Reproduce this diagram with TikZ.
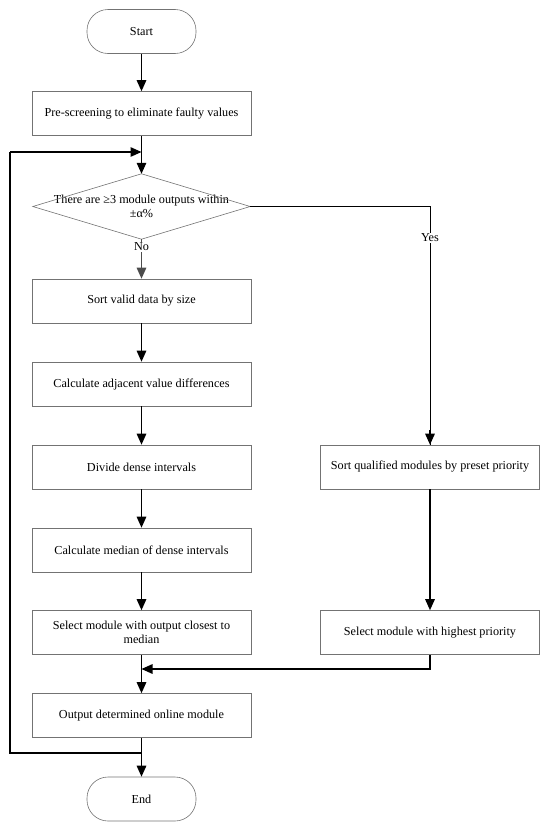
\documentclass[tikz,border=0pt]{standalone}
\usepackage{fontspec}
\setmainfont{Liberation Serif}
\usetikzlibrary{arrows.meta}
\begin{document}
\begin{tikzpicture}[x=1pt,y=-1pt,
  box/.style={draw=black!55, line width=0.6pt, minimum width=219pt, minimum height=44pt, inner sep=2pt, align=center, font=\fontsize{12.2}{14.5}\selectfont},
  term/.style={draw=black!55, line width=0.6pt, rounded corners=21pt, minimum width=109pt, minimum height=44pt, font=\fontsize{12.2}{14.5}\selectfont},
  arr/.style={line width=1.4pt, -{Triangle[width=9.5pt,length=11pt]}},
  ln/.style={line width=1.4pt},
  garr/.style={line width=1.4pt, draw=black!70, fill=black!70, -{Triangle[width=9.5pt,length=11pt]}},
  lbl/.style={fill=white, inner sep=1pt, font=\fontsize{12.2}{14.5}\selectfont}
]
\useasboundingbox (0,0) rectangle (550,830);
\node[term] (start) at (141.5,31.5) {Start};
\node[box] (pre) at (141.5,113.5) {Pre-screening to eliminate faulty values};
\node[minimum width=217pt, minimum height=65pt, inner sep=0pt, align=center, font=\fontsize{12.2}{13.5}\selectfont] (dec) at (141.5,206.5) {There are ≥3 module outputs within\\[0pt]±α\%};
\draw[draw=black!55, line width=0.6pt] (dec.west) -- (dec.north) -- (dec.east) -- (dec.south) -- cycle;
\node[box] (sortv) at (141.5,301) {Sort valid data by size};
\node[box] (calc) at (141.5,384) {Calculate adjacent value differences};
\node[box] (divide) at (141.5,467) {Divide dense intervals};
\node[box] (median) at (141.5,550) {Calculate median of dense intervals};
\node[box] (selc) at (141.5,632.5) {Select module with output closest to\\median};
\node[box] (outp) at (141.5,715.5) {Output determined online module};
\node[term] (end) at (141.5,799) {End};
\node[box] (sortq) at (430,467) {Sort qualified modules by preset priority};
\node[box] (selh) at (430,632.5) {Select module with highest priority};
\coordinate (j1) at (141.5,152);
\coordinate (j2) at (141.5,753);
\coordinate (jm) at (141.5,669);
\coordinate (lb) at (10,753);
\coordinate (lt) at (10,152);
\draw[arr] (start) -- (pre);
\draw[arr] (pre) -- (dec.north);
\draw[ln] (j2) -- (lb) -- (lt);
\draw[arr] (lt) -- (j1);
\draw[ln, draw=black!70] (dec.south) -- ++(0,16) coordinate (nostart);
\draw[garr] (nostart) -- (sortv.north);
\node[lbl] (no) at (141.5,247) {No};
\draw[line width=0.9pt] (dec.east) -| (sortq.north);
\draw[arr] (430,430) -- (sortq.north);
\node[lbl] (yes) at (430,238) {Yes};
\draw[arr] (sortv) -- (calc);
\draw[arr] (calc) -- (divide);
\draw[arr] (divide) -- (median);
\draw[arr] (median) -- (selc);
\draw[arr] (selc) -- (outp);
\draw[arr] (sortq) -- (selh);
\draw[arr] (selh.south) |- (jm);
\draw[arr] (outp) -- (end);
\end{tikzpicture}
\end{document}
